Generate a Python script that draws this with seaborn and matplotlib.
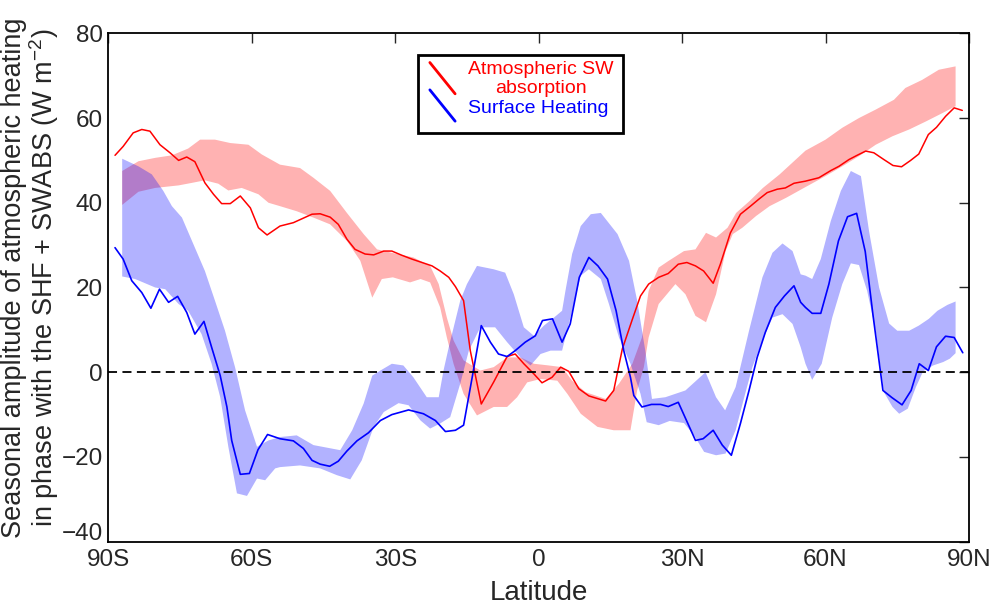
import numpy as np
import pandas as pd
import matplotlib
matplotlib.use("Agg")
import matplotlib.pyplot as plt
import matplotlib.transforms as mtransforms
import seaborn as sns
from matplotlib.lines import Line2D
from matplotlib.patches import Rectangle
from matplotlib.legend_handler import HandlerBase

# Atmospheric SW absorption: single estimate (line)
sw_lat = [-88.6, -86.9, -84.8, -83.0, -81.3, -79.2, -77.1, -75.3, -73.6, -71.9, -69.8, -68.0, -66.3, -64.5,
          -62.4, -60.3, -58.6, -56.8, -54.1, -51.3, -47.4, -45.7, -43.6, -41.9, -40.1, -38.4, -36.3, -34.5,
          -32.4, -30.7, -28.6, -26.5, -24.4, -22.3, -20.6, -18.8, -17.4, -15.7, -14.3, -12.0, -9.4, -6.6,
          -4.9, -3.1, -1.0, 0.7, 2.8, 4.6, 6.3, 8.4, 10.5, 14.0, 15.7, 17.5, 19.6, 21.3, 23.0, 25.1, 27.1,
          29.2, 31.0, 32.8, 34.5, 36.5, 38.0, 40.1, 42.2, 44.3, 46.0, 47.8, 49.9, 51.6, 53.4, 55.8, 58.6,
          61.1, 62.8, 64.9, 66.6, 68.4, 70.1, 72.2, 74.1, 75.9, 77.8, 79.5, 81.5, 83.2, 85.1, 86.9, 88.6]
sw_val = [51.2, 53.3, 56.5, 57.3, 56.9, 53.7, 51.8, 50.0, 50.8, 49.7, 44.7, 42.0, 39.8, 39.8,
          41.6, 38.8, 34.1, 32.4, 34.5, 35.3, 37.3, 37.4, 36.6, 34.9, 31.4, 29.0, 27.9, 27.7,
          28.6, 28.6, 27.6, 26.7, 25.9, 25.1, 23.9, 22.4, 20.2, 16.9, 5.1, -7.5, -2.3, 3.7,
          4.3, 2.0, -0.4, -2.5, -1.2, 1.2, 0.2, -3.9, -5.6, -6.8, -4.3, 5.5, 12.5, 18.0, 20.8, 22.4, 23.3,
          25.5, 25.9, 25.1, 23.9, 21.0, 25.5, 32.9, 37.3, 39.2, 40.8, 42.4, 43.2, 43.5, 44.6, 45.1, 45.9,
          47.6, 48.6, 50.2, 51.2, 52.2, 51.8, 50.2, 48.8, 48.5, 50.0, 51.5, 56.1, 57.8, 60.4, 62.4, 61.8]

# Surface heating: single estimate (line)
sh_lat = [-88.6, -86.9, -85.1, -83.0, -81.1, -79.3, -77.4, -75.5, -73.6, -71.9, -70.0, -68.4, -66.6, -65.2,
          -64.2, -62.4, -60.5, -58.7, -56.7, -54.1, -51.3, -49.2, -47.4, -45.7, -43.7, -41.9, -40.1, -38.0,
          -35.6, -33.1, -30.7, -27.2, -24.1, -21.6, -19.5, -17.4, -15.7, -13.9, -12.0, -10.1, -8.4, -6.6,
          -4.9, -2.8, -0.7, 0.8, 2.9, 4.9, 6.6, 8.5, 10.5, 12.4, 14.4, 16.2, 17.8, 19.2, 19.9, 21.6, 23.6,
          25.5, 27.1, 29.2, 30.6, 32.8, 34.4, 36.5, 38.4, 40.3, 42.2, 44.0, 45.7, 47.4, 49.5, 51.4, 53.4,
          54.8, 55.8, 57.2, 59.0, 60.7, 62.7, 64.6, 66.5, 68.3, 69.9, 72.0, 73.9, 76.0, 77.9, 79.6, 81.5,
          83.2, 85.1, 86.9, 88.7]
sh_val = [29.4, 26.7, 21.6, 18.8, 15.1, 19.6, 16.5, 17.9, 14.1, 9.0, 12.0, 5.9, -0.8, -8.2,
          -16.1, -24.1, -23.9, -18.3, -14.7, -15.7, -16.2, -18.0, -20.8, -21.7, -22.2, -21.0, -18.6, -16.2,
          -14.3, -11.4, -10.0, -8.9, -9.8, -11.4, -14.0, -13.7, -12.5, -1.2, 11.0, 7.1, 4.3, 3.7,
          5.1, 7.1, 8.6, 12.2, 12.6, 7.1, 11.4, 22.4, 27.1, 25.1, 22.0, 14.5, 5.1, -1.2, -5.5, -8.2, -7.6,
          -7.6, -8.1, -7.1, -10.6, -16.1, -15.7, -13.7, -17.2, -19.6, -12.1, -4.3, 3.5, 9.4, 15.3, 18.0, 20.4,
          16.5, 15.3, 13.9, 13.9, 20.8, 31.0, 36.7, 37.5, 28.5, 13.7, -4.3, -6.0, -7.7, -4.3, 2.0, 0.4,
          6.0, 8.5, 8.2, 4.6]

# Atmospheric SW absorption: spread (band edges)
sw_hi_lat = [-87.1, -83.7, -80.2, -76.7, -73.3, -70.8, -67.7, -64.5, -60.7, -57.9, -54.1, -49.9, -47.1, -43.6,
             -40.1, -36.6, -33.8, -29.6, -26.2, -22.7, -20.9, -19.2, -17.8, -15.7, -12.2, -9.4, -6.6, -3.8,
             -1.0, 2.1, 4.9, 7.0, 9.8, 14.0, 16.8, 19.6, 21.6, 23.0, 25.1, 27.2, 30.4, 32.8, 35.0, 37.1,
             39.5, 41.3, 44.1, 46.9, 50.4, 55.8, 60.0, 63.5, 67.0, 70.5, 74.3, 76.7, 80.2, 83.7, 87.2]
sw_hi = [47.5, 49.8, 50.6, 51.2, 52.8, 54.9, 54.9, 54.1, 53.7, 51.4, 49.0, 48.2, 45.9, 42.8,
         37.6, 32.6, 29.0, 27.9, 27.1, 25.1, 20.8, 12.9, 7.5, 2.8, 0.4, 1.2, 3.5, 3.5,
         2.0, 1.6, 1.2, -2.0, -4.7, -6.3, -2.7, 2.0, 8.2, 19.2, 24.7, 26.3, 28.6, 29.0, 32.9, 31.8,
         34.1, 37.6, 40.4, 43.5, 46.7, 52.3, 54.9, 57.7, 60.0, 62.0, 64.3, 67.1, 69.0, 71.4, 72.2]
sw_lo_lat = [-87.1, -83.7, -80.2, -75.3, -72.5, -69.8, -67.0, -64.9, -62.1, -58.6, -56.5, -54.1, -50.6, -47.1,
             -43.6, -40.1, -37.3, -34.8, -32.8, -30.5, -26.9, -24.7, -22.7, -20.6, -19.2, -17.8, -15.7, -12.9,
             -9.4, -6.6, -4.5, -2.4, 0.4, 3.9, 6.0, 8.8, 12.3, 15.7, 19.2, 20.6, 22.0, 23.0, 25.1, 28.6,
             30.7, 32.8, 35.0, 37.1, 39.1, 40.6, 42.6, 45.5, 48.3, 51.8, 55.8, 60.0, 63.5, 67.0, 70.5, 74.0,
             77.5, 81.0, 84.5, 87.2]
sw_lo = [39.5, 42.6, 43.5, 44.1, 44.7, 45.3, 44.5, 42.9, 43.5, 42.0, 40.0, 39.2, 38.0, 36.5,
         34.9, 31.0, 26.3, 17.6, 22.0, 22.4, 21.2, 22.0, 21.2, 15.3, 8.2, 2.0, -5.1, -10.2,
         -8.2, -8.2, -5.9, -2.4, -1.6, -2.0, -5.1, -9.8, -12.9, -13.7, -13.7, -4.3, 1.2, 8.2, 16.1, 20.8,
         18.4, 13.3, 11.8, 18.4, 28.6, 32.6, 34.1, 36.9, 39.2, 41.2, 43.7, 46.3, 48.6, 51.0, 53.7, 55.7,
         57.3, 59.2, 61.2, 62.8]

# Surface heating: spread (band edges)
sh_hi_lat = [-87.1, -83.7, -80.9, -78.5, -76.7, -74.6, -72.2, -69.8, -67.7, -65.6, -63.5, -61.4, -58.9, -56.5,
             -54.1, -50.6, -47.1, -41.5, -39.0, -36.6, -34.8, -33.1, -30.7, -28.3, -26.2, -23.4, -20.9, -19.9,
             -18.8, -16.4, -15.0, -12.9, -9.4, -7.0, -5.2, -3.1, -1.0, 1.1, 3.2, 4.9, 5.6, 7.0, 8.8, 10.9,
             13.0, 16.5, 18.9, 20.6, 22.3, 23.7, 26.5, 30.7, 34.9, 37.1, 39.0, 41.2, 44.0, 46.8, 48.9, 51.0,
             53.1, 54.8, 55.8, 57.2, 59.0, 61.1, 63.2, 65.3, 67.4, 69.1, 71.2, 73.3, 75.0, 77.5, 79.5, 81.6,
             83.4, 85.5, 87.2]
sh_hi = [50.4, 48.6, 46.7, 42.8, 39.2, 36.5, 30.2, 23.9, 16.9, 9.8, 1.2, -9.0, -17.6, -16.1,
         -15.3, -14.9, -17.2, -18.4, -13.7, -7.4, -0.8, 0.4, 2.0, 1.6, -1.2, -5.9, -5.9, 0.4,
         5.9, 16.9, 20.8, 25.1, 24.3, 23.5, 18.4, 10.6, 8.6, 11.0, 12.9, 14.5, 19.2, 27.9, 34.5, 37.3,
         37.6, 32.6, 26.3, 16.9, 5.1, -6.3, -5.9, -4.3, 0.0, -5.9, -9.0, -3.5, 9.8, 22.4, 28.2, 30.4,
         28.6, 23.1, 22.8, 22.0, 26.7, 35.7, 42.8, 47.5, 46.3, 33.3, 20.0, 11.5, 9.8, 9.8, 11.0, 12.6,
         14.5, 15.9, 16.7]
sh_lo_lat = [-87.1, -84.4, -80.2, -78.1, -75.3, -73.3, -70.5, -68.4, -66.6, -64.9, -63.1, -61.0, -58.9, -57.2,
             -55.1, -54.1, -49.9, -45.7, -42.2, -39.4, -37.0, -34.5, -32.4, -29.3, -27.2, -24.7, -22.7, -20.6,
             -18.5, -16.4, -14.6, -12.2, -9.1, -6.6, -3.8, -1.7, 0.4, 2.5, 4.9, 7.0, 8.8, 10.5, 13.0, 14.7,
             16.8, 19.2, 21.3, 22.6, 25.1, 27.4, 30.4, 32.5, 34.6, 37.1, 39.1, 41.2, 43.0, 44.7, 46.8, 48.9,
             51.0, 53.1, 54.8, 55.8, 57.2, 59.2, 61.4, 63.5, 65.3, 67.0, 68.7, 70.5, 72.2, 74.0, 75.4, 77.2,
             78.9, 80.4, 82.5, 84.6, 86.0, 87.2]
sh_lo = [22.6, 22.0, 20.0, 19.6, 16.1, 14.5, 9.0, 2.0, -5.9, -17.6, -28.6, -29.2, -25.1, -25.5,
         -22.7, -22.4, -22.0, -22.7, -24.3, -25.3, -20.8, -12.9, -9.4, -7.3, -7.8, -11.4, -13.3, -12.1,
         -10.6, -2.7, 5.1, 10.6, 10.6, 7.1, 3.5, 1.6, 4.3, 5.1, 5.1, 14.5, 22.8, 24.3, 22.0, 16.1,
         8.2, 2.0, -5.1, -11.8, -12.5, -11.5, -12.0, -14.9, -18.8, -19.6, -19.2, -13.7, -5.9, 1.2, 7.5, 12.9,
         13.7, 11.4, 5.9, 2.0, -1.8, 2.0, 12.9, 20.8, 25.7, 25.3, 19.2, 9.8, -4.7, -8.2, -9.8, -8.6,
         -3.5, 0.2, 1.6, 2.4, 3.2, 4.5]

xticks = [-90, -60, -30, 0, 30, 60, 90]
xtick_labels = ["90S", "60S", "30S", "0", "30N", "60N", "90N"]
yticks = [-40, -20, 0, 20, 40, 60, 80]


class DiagonalLineHandler(HandlerBase):
    # legend key drawn as a slanted line, like the original
    def create_artists(self, legend, orig_handle, xdescent, ydescent, width, height, fontsize, trans):
        x0, x1 = -xdescent, -xdescent + width
        y0, y1 = -ydescent + height * 1.7, -ydescent - height * 0.6
        line = Line2D([x0, x1], [y0, y1], color=orig_handle.get_color(), lw=orig_handle.get_linewidth())
        line.set_transform(trans)
        return [line]


sns.set_style("white")
plt.rcParams["font.family"] = ["Liberation Sans", "DejaVu Sans"]
plt.rcParams["mathtext.default"] = "regular"

fig = plt.figure(figsize=(9.92, 6.10), dpi=100)
ax = fig.add_axes([0.1092, 0.112, 0.8676, 0.8334])

# spread bands: red first, blue on top so the overlap turns purple
ax.fill(np.concatenate([sw_hi_lat, sw_lo_lat[::-1]]), np.concatenate([sw_hi, sw_lo[::-1]]),
        color="red", alpha=0.3, lw=0)
ax.fill(np.concatenate([sh_hi_lat, sh_lo_lat[::-1]]), np.concatenate([sh_hi, sh_lo[::-1]]),
        color="blue", alpha=0.3, lw=0)

sw_df = pd.DataFrame({"lat": sw_lat, "val": sw_val})
sh_df = pd.DataFrame({"lat": sh_lat, "val": sh_val})
sns.lineplot(data=sw_df, x="lat", y="val", ax=ax, color="red", lw=1.1, estimator=None, sort=False)
sns.lineplot(data=sh_df, x="lat", y="val", ax=ax, color="blue", lw=1.2, estimator=None, sort=False)

ax.axhline(0, color="black", ls="--", lw=1.3, dashes=(5, 3))

ax.set_xlim(-90, 90)
ax.set_ylim(-40, 80)
ax.set_xticks(xticks)
ax.set_xticklabels(xtick_labels)
ax.set_yticks(yticks)
ax.tick_params(direction="in", length=7, width=1, top=True, right=True, labelsize=17.5)
ax.tick_params(axis="x", pad=5)
ax.tick_params(axis="y", pad=4)
for s in ax.spines.values():
    s.set_color("black")
    s.set_linewidth(1.3)

# lowest y label sits a little above its tick, as in the original
lab = ax.get_yticklabels()[0]
lab.set_transform(lab.get_transform() + mtransforms.ScaledTranslation(0, 7 / 72, fig.dpi_scale_trans))

ax.set_xlabel("Latitude", fontsize=20, labelpad=7)
ax.set_ylabel("Seasonal amplitude of atmospheric heating\nin phase with the SHF + SWABS (W m$^{-2}$)",
              fontsize=19.5, linespacing=1.0)
ax.yaxis.set_label_coords(-0.055, 0.52)

# legend box drawn separately so its size matches the original
ax.add_patch(Rectangle((0.3602, 0.8033), 0.2382, 0.154, transform=ax.transAxes,
                       facecolor="white", edgecolor="black", lw=2, zorder=5))
handles = [Line2D([], [], color="red", lw=2), Line2D([], [], color="blue", lw=2)]
leg = ax.legend(handles, ["Atmospheric SW\nabsorption", "Surface Heating"],
                handler_map={Line2D: DiagonalLineHandler()},
                loc="upper left", bbox_to_anchor=(0.3668, 0.9573), borderaxespad=0, fontsize=14,
                labelcolor="linecolor", frameon=False,
                handlelength=1.3, handletextpad=0.65, labelspacing=0.1, borderpad=0.3)
leg.set_zorder(6)
for t in leg.get_texts():
    t.set_multialignment("center")

fig.savefig("out.png", dpi=100)
